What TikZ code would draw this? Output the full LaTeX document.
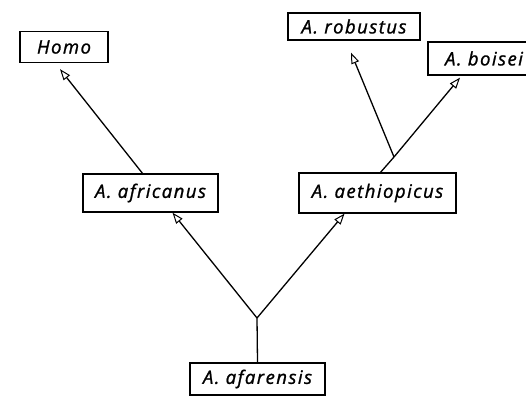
\documentclass[tikz,border=0pt]{standalone}
\usepackage{fontspec}
\setmainfont{Open Sans}[LetterSpace=8,FakeBold=1.2]
\usetikzlibrary{arrows.meta,calc}
\begin{document}
\begin{tikzpicture}[x=1pt,y=-1pt,
  taxon/.style={draw, line width=1.3pt, rectangle, inner sep=0pt,
    font=\fontsize{18.5}{21}\selectfont\itshape},
  link/.style={line width=1.3pt},
  descent/.style={link, -{Triangle[open,length=11pt,width=8pt,line width=1pt]}}]
  \useasboundingbox (0,0) rectangle (526,397);
  % species boxes
  \node[taxon, minimum width=88pt, minimum height=31pt] (homo) at (64,47) {Homo};
  \node[taxon, minimum width=135pt, minimum height=38pt] (africanus) at (150.5,193) {A.\ africanus};
  \node[taxon, minimum width=157pt, minimum height=40pt] (aethiopicus) at (377.5,193) {A.\ aethiopicus};
  \node[taxon, minimum width=132pt, minimum height=27pt] (robustus) at (354,26.5) {A.\ robustus};
  \node[taxon, minimum width=112pt, minimum height=33pt] (boisei) at (484,58.5) {A.\ boisei};
  \node[taxon, minimum width=135pt, minimum height=32pt] (afarensis) at (257.5,379) {A.\ afarensis};
  % branching points
  \coordinate (fork) at (257,318);
  \coordinate (split) at (394,157);
  % lineages
  \draw[link] (afarensis.north) -- (fork);
  \draw[descent] (fork) -- ($(africanus.south)+(22,0)$);
  \draw[descent] (fork) -- ($(aethiopicus.south)+(-33,0)$);
  \draw[descent] ($(africanus.north)+(-8,0)$) -- ($(homo.south)+(-4,6)$);
  \draw[link] ($(aethiopicus.north)+(3,0)$) -- (split);
  \draw[descent] (split) -- ($(boisei.south)+(-24,2)$);
  \draw[descent] (split) -- ($(robustus.south)+(-3,12)$);
\end{tikzpicture}
\end{document}
